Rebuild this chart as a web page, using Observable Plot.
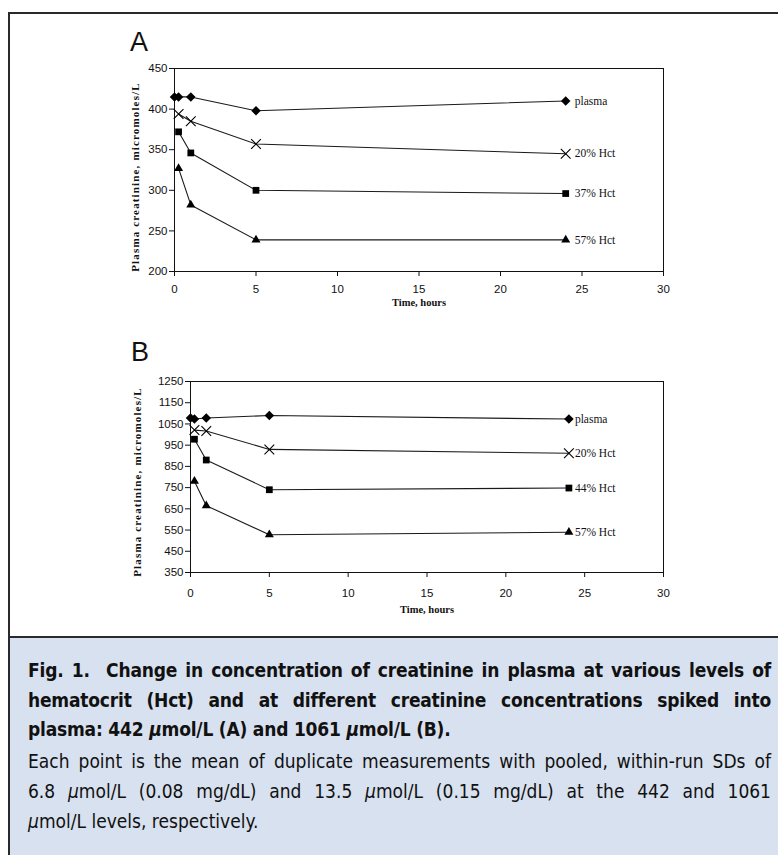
<!DOCTYPE html>
<html>
<head>
<meta charset="utf-8">
<script src="https://cdn.jsdelivr.net/npm/d3@7"></script>
<script src="https://cdn.jsdelivr.net/npm/@observablehq/plot@0.6"></script>
<style>
  html, body { margin: 0; padding: 0; background: #fff; }
  body { width: 778px; height: 855px; overflow: hidden; position: relative; }
  #frame { position: absolute; left: 8px; top: 12px; width: 800px; height: 860px;
           border-left: 2px solid #2a2a2a; border-top: 2px solid #2a2a2a; }
  .panel-letter { position: absolute; font-family: "Liberation Sans", Arial, sans-serif; font-size: 27px; color: #111; line-height: 1; }
  .chart { position: absolute; }
  #caption { position: absolute; left: 10px; top: 636px; width: 790px; height: 230px;
             background: #d8e1ef; border-top: 2px solid #2a2a2a; }
  #caption .txt { position: absolute; left: 18px; width: 743px;
             font-family: "DejaVu Sans Condensed", "Liberation Sans Narrow", sans-serif; color: #111; }
  #caption .ln { text-align: justify; text-align-last: justify; white-space: nowrap; }
  #caption .ln.last { text-align-last: left; }
  #cap1 { top: 18px; font-size: 19px; font-weight: bold; line-height: 29.5px; letter-spacing: -0.2px; }
  #cap2 { top: 108px; font-size: 19px; line-height: 30px; }
</style>
</head>
<body>
<div id="frame"></div>
<div class="panel-letter" style="left:130px; top:29px;">A</div>
<div class="panel-letter" style="left:131px; top:339px;">B</div>
<div id="chartA" class="chart" style="left:100px; top:55px;"></div>
<div id="chartB" class="chart" style="left:100px; top:365px;"></div>
<div id="caption">
  <div class="txt" id="cap1">
    <div class="ln">Fig. 1.&nbsp; Change in concentration of creatinine in plasma at various levels of</div>
    <div class="ln">hematocrit (Hct) and at different creatinine concentrations spiked into</div>
    <div class="ln last">plasma: 442 <i>μ</i>mol/L (A) and 1061 <i>μ</i>mol/L (B).</div>
  </div>
  <div class="txt" id="cap2">
    <div class="ln">Each point is the mean of duplicate measurements with pooled, within-run SDs of</div>
    <div class="ln">6.8 <i>μ</i>mol/L (0.08 mg/dL) and 13.5 <i>μ</i>mol/L (0.15 mg/dL) at the 442 and 1061</div>
    <div class="ln last"><i>μ</i>mol/L levels, respectively.</div>
  </div>
</div>
<script>
// ---------- data ----------
const xTicks = [0, 5, 10, 15, 20, 25, 30];
const yTicksA = [200, 250, 300, 350, 400, 450];
const yTicksB = [350, 450, 550, 650, 750, 850, 950, 1050, 1150, 1250];
const yTitle = "Plasma creatinine, micromoles/L";
const xTitle = "Time, hours";

const timesPlasma = [0, 0.25, 1, 5, 24];
const timesHct = [0.25, 1, 5, 24];

// Panel A (442 µmol/L)
const seriesA = ["plasma", "20% Hct", "37% Hct", "57% Hct"];
const plasmaA = [415, 415, 415, 398, 410];
const hct20A  = [394, 385, 357, 345];
const hct37A  = [372, 346, 300, 296];
const hct57A  = [327, 282, 239, 239];

// Panel B (1061 µmol/L)
const seriesB = ["plasma", "20% Hct", "44% Hct", "57% Hct"];
const plasmaB = [1078, 1073, 1078, 1090, 1073];
const hct20B  = [1021, 1017, 930, 912];
const hct44B  = [978, 880, 740, 748];
const hct57B  = [780, 665, 528, 540];

const symbols = ["diamond2", "times", "square2", "triangle2"];

function build(names, valueLists) {
  const rows = [];
  names.forEach((name, i) => {
    const ts = i === 0 ? timesPlasma : timesHct;
    valueLists[i].forEach((v, j) => rows.push({series: name, sym: symbols[i], t: ts[j], v}));
  });
  return rows;
}

function chart(rows, yDomain, yTicks, opts) {
  const last = d3.groups(rows, d => d.series).map(([, r]) => r[r.length - 1]);
  const filled = rows.filter(d => d.sym !== "times");
  const crosses = rows.filter(d => d.sym === "times");
  return Plot.plot({
    width: 600,
    height: 260,
    marginLeft: opts.ml,
    marginRight: 37,
    marginTop: opts.mt,
    marginBottom: opts.mb,
    style: {fontFamily: "'Liberation Sans', Arial, sans-serif", fontSize: "11.5px", color: "#111", background: "transparent"},
    x: {domain: [0, 30], label: null},
    y: {domain: yDomain, label: null},
    symbol: {type: "identity"},
    marks: [
      Plot.frame({stroke: "#111", strokeWidth: 1}),
      Plot.axisY({ticks: yTicks, tickSize: 5, tickPadding: 2, label: null, fontSize: 11.5, tickFormat: d => String(d)}),
      Plot.axisX({ticks: xTicks, tickSize: 5, tickPadding: opts.xpad, label: null, fontSize: 11.5}),
      Plot.line(rows, {x: "t", y: "v", z: "series", stroke: "#1a1a1a", strokeWidth: 1.1}),
      Plot.dot(filled, {x: "t", y: "v", symbol: "sym", r: 4.3, fill: "#000", stroke: "none"}),
      Plot.dot(crosses, {x: "t", y: "v", symbol: "sym", r: 4.5, fill: "none", stroke: "#000", strokeWidth: 1.1}),
      Plot.text(last, {x: "t", y: "v", text: "series", textAnchor: "start", dx: opts.ldx,
        fontFamily: "'Liberation Serif', 'Times New Roman', serif", fontSize: 11.5, fill: "#111"}),
      Plot.text([yTitle], {frameAnchor: "left", textAnchor: "middle", rotate: -90, dx: opts.ytdx, dy: opts.ytdy, text: d => d,
        fontFamily: "'Liberation Serif', 'Times New Roman', serif", fontWeight: "bold", fontSize: 11, fill: "#111"}),
      Plot.text([xTitle], {frameAnchor: "bottom", dy: opts.xtdy, text: d => d,
        fontFamily: "'Liberation Serif', 'Times New Roman', serif", fontWeight: "bold", fontSize: 10.5, fill: "#111"})
    ]
  });
}

const A = chart(build(seriesA, [plasmaA, hct20A, hct37A, hct57A]), [200, 450], yTicksA,
  {ml: 74, mt: 13, mb: 44, xpad: 8, ldx: 9, ytdx: -39, ytdy: 7, xtdy: 34});
const B = chart(build(seriesB, [plasmaB, hct20B, hct44B, hct57B]), [350, 1250], yTicksB,
  {ml: 90, mt: 16, mb: 53, xpad: 11, ldx: 6, ytdx: -53, ytdy: 5, xtdy: 40});

document.getElementById("chartA").appendChild(A);
document.getElementById("chartB").appendChild(B);

d3.selectAll("svg text").filter(function() { return this.textContent === yTitle; })
  .style("letter-spacing", "1.15px");
</script>
</body>
</html>
